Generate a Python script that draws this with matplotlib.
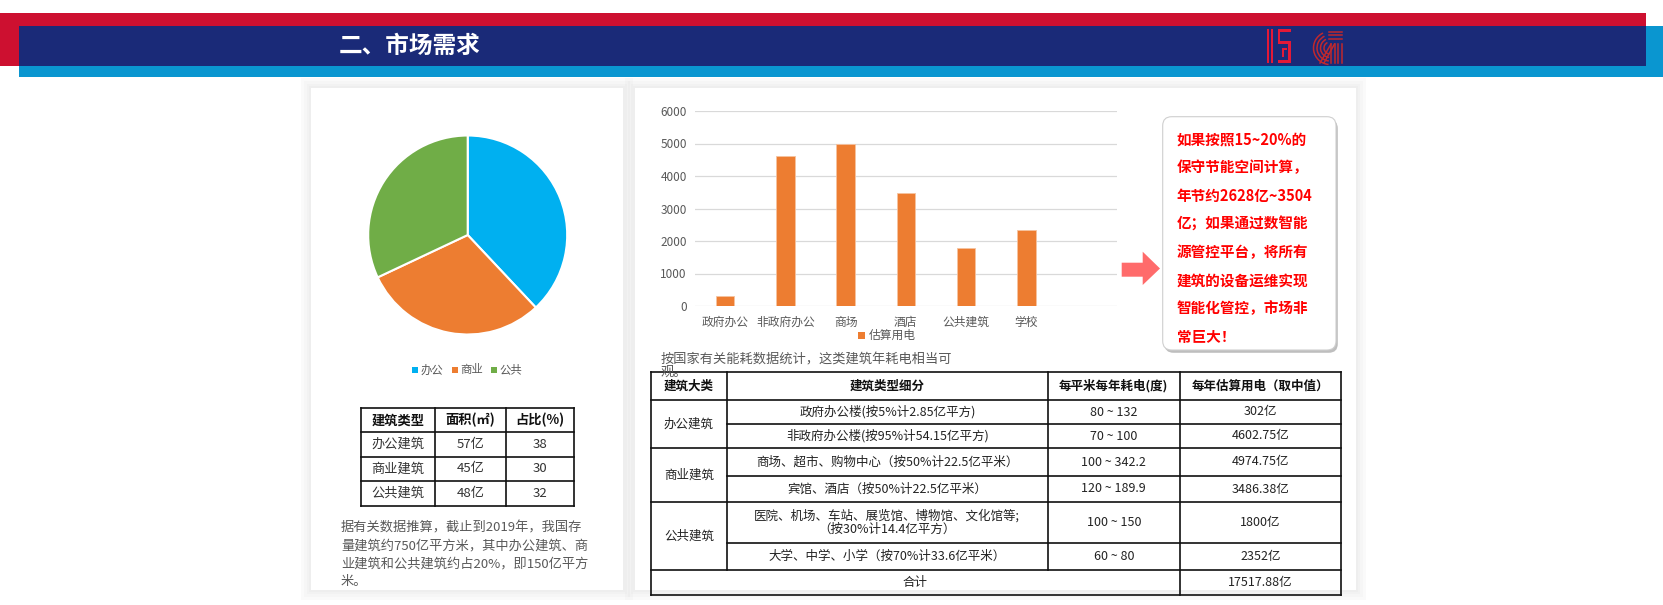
import numpy as np
import matplotlib.pyplot as plt
from matplotlib.patches import Rectangle, FancyBboxPatch, Polygon, Arc

plt.rcParams['font.family'] = ['Noto Sans CJK SC', 'DejaVu Sans']

W, H = 1663, 605

# 饼图数据
pie_labels = ['办公', '商业', '公共']
pie_values = [38, 30, 32]
pie_colors = ['#00B0F0', '#ED7D31', '#70AD47']

# 面积表
area_header = ['建筑类型', '面积(㎡)', '占比(%)']
area_types = ['办公建筑', '商业建筑', '公共建筑']
area_values = ['57亿', '45亿', '48亿']
area_share = ['38', '30', '32']

area_note = ['据有关数据推算，截止到2019年，我国存',
             '量建筑约750亿平方米，其中办公建筑、商',
             '业建筑和公共建筑约占20%，即150亿平方',
             '米。']

# 柱状图数据
bar_cats = ['政府办公', '非政府办公', '商场', '酒店', '公共建筑', '学校']
bar_values = [302, 4602.75, 4974.75, 3486.38, 1800, 2352]
bar_legend = '估算用电'

# 大表
big_header = ['建筑大类', '建筑类型细分', '每平米每年耗电(度)', '每年估算用电（取中值）']
big_groups = ['办公建筑', '商业建筑', '公共建筑']
big_sub = ['政府办公楼(按5%计2.85亿平方)',
           '非政府办公楼(按95%计54.15亿平方)',
           '商场、超市、购物中心（按50%计22.5亿平米）',
           '宾馆、酒店（按50%计22.5亿平米）',
           '医院、机场、车站、展览馆、博物馆、文化馆等;\n（按30%计14.4亿平方）',
           '大学、中学、小学（按70%计33.6亿平米）']
big_range = ['80 ~ 132', '70 ~ 100', '100 ~ 342.2', '120 ~ 189.9', '100 ~ 150', '60 ~ 80']
big_total = ['302亿', '4602.75亿', '4974.75亿', '3486.38亿', '1800亿', '2352亿']
total_label = '合计'
total_value = '17517.88亿'

callout_lines = ['如果按照15~20%的', '保守节能空间计算，', '年节约2628亿~3504',
                 '亿；如果通过数智能', '源管控平台，将所有', '建筑的设备运维实现',
                 '智能化管控，市场非', '常巨大！']

title = '二、市场需求'
table_intro = '按国家有关能耗数据统计，这类建筑年耗电相当可'

GRAY = '#595959'

fig = plt.figure(figsize=(W / 100, H / 100), dpi=100)
fig.patch.set_facecolor('white')

def px_axes(x0, y0, x1, y1, z):
    # 像素坐标 -> figure 坐标
    return fig.add_axes([x0 / W, (H - y1) / H, (x1 - x0) / W, (y1 - y0) / H], zorder=z)

# 背景层
bg = fig.add_axes([0, 0, 1, 1], zorder=0)
bg.set_xlim(0, W)
bg.set_ylim(H, 0)
bg.axis('off')

# 页眉
bg.add_patch(Rectangle((0, 13), 1646, 53, color='#CD1030', lw=0))
bg.add_patch(Rectangle((19, 26), W - 19, 50.5, color='#0A96D0', lw=0))
bg.add_patch(Rectangle((19, 26), 1646 - 19, 40, color='#1A2A78', lw=0))
bg.text(339, 46, title, color='white', fontsize=17, fontweight='bold', ha='left', va='center')

# 标志
logo_red = '#E31937'
logo_dark = '#C0282D'
for (x, y, w, h) in [(1266.5, 29.3, 2.3, 33.7), (1271, 29.3, 2.3, 33.7),
                     (1277.7, 29.3, 13, 2.7), (1277.7, 29.3, 2.5, 14),
                     (1277.7, 41, 13, 2.5), (1288.2, 41, 2.5, 19),
                     (1281.5, 48, 5, 2.3), (1281.5, 48, 2.3, 9),
                     (1277.7, 60.3, 13, 2.7)]:
    bg.add_patch(Rectangle((x, y), w, h, color=logo_red, lw=0))
for r in [6, 9.5, 13, 16.5]:
    bg.add_patch(Arc((1330, 48), 2 * r, 2 * r, theta1=95, theta2=245, color=logo_dark, lw=1.1))
for x in [1331, 1334.5, 1338, 1341.5]:
    bg.plot([x, x], [44, 63], color=logo_dark, lw=1.1)
for y in [31.5, 35, 38.5]:
    bg.plot([1329, 1342], [y, y], color=logo_dark, lw=1.1)
bg.plot([1320, 1331], [63, 44], color=logo_dark, lw=1.1)
bg.plot([1324, 1334.5], [63, 44], color=logo_dark, lw=1.1)

# 卡片与阴影
for (x0, y0, x1, y1) in [(311, 88, 623, 590), (635, 88, 1356, 590)]:
    for k in [10, 7, 4, 2]:
        bg.add_patch(Rectangle((x0 - k, y0 - k), x1 - x0 + 2 * k, y1 - y0 + 2 * k,
                               color='#A0A0A0', alpha=0.045, lw=0))
    bg.add_patch(Rectangle((x0, y0), x1 - x0, y1 - y0, color='white', lw=0))

# 饼图
r = 99.5
cx, cy = 467.7, 235
ax_pie = px_axes(cx - r, cy - r, cx + r, cy + r, 1)
ax_pie.pie(pie_values, colors=pie_colors, startangle=90, counterclock=False,
           wedgeprops=dict(edgecolor='white', linewidth=1.5))
ax_pie.set_xlim(-1, 1)
ax_pie.set_ylim(-1, 1)
ax_pie.set_aspect('equal')
ax_pie.axis('off')

# 柱状图
ax_bar = px_axes(695, 111, 1116.7, 306, 1)
ax_bar.set_facecolor('none')
ax_bar.bar(range(len(bar_values)), bar_values, width=0.31, color='#ED7D31',
           edgecolor='#F6C3A0', linewidth=0.6, zorder=3)
ax_bar.set_xlim(-0.5, 6.5)
ax_bar.set_ylim(0, 6000)
ax_bar.set_yticks(range(0, 7000, 1000))
ax_bar.set_xticks(range(len(bar_cats)))
ax_bar.set_xticklabels(bar_cats)
ax_bar.grid(axis='y', color='#D9D9D9', lw=0.9, zorder=0)
ax_bar.tick_params(length=0, labelsize=8.5, colors=GRAY)
ax_bar.tick_params(axis='y', pad=6)
ax_bar.tick_params(axis='x', pad=7)
for s in ax_bar.spines.values():
    s.set_visible(False)

# 前景层
fg = fig.add_axes([0, 0, 1, 1], zorder=2)
fg.set_facecolor('none')
fg.set_xlim(0, W)
fg.set_ylim(H, 0)
fg.axis('off')

# 饼图图例
for x, lab, c in zip([412, 451.5, 490.5], pie_labels, pie_colors):
    fg.add_patch(Rectangle((x, 367), 6, 6, color=c, lw=0))
    fg.text(x + 9, 370, lab, fontsize=8.2, color=GRAY, ha='left', va='center')

# 柱状图图例
fg.add_patch(Rectangle((858, 331.5), 7, 7, color='#ED7D31', lw=0))
fg.text(869, 335, bar_legend, fontsize=8.5, color=GRAY, ha='left', va='center')

# 面积表
cols = [360.7, 435, 505.7, 574]
rows = [408.3, 432.3, 456.7, 480.7, 505.7]
for y in rows:
    fg.plot([cols[0], cols[-1]], [y, y], color='#111111', lw=1.2)
for x in cols:
    fg.plot([x, x], [rows[0], rows[-1]], color='#111111', lw=1.2)
for j, t in enumerate(area_header):
    fg.text((cols[j] + cols[j + 1]) / 2, (rows[0] + rows[1]) / 2, t, fontsize=9.5,
            fontweight='bold', ha='center', va='center', color='#111111')
for i in range(3):
    yc = (rows[i + 1] + rows[i + 2]) / 2
    for j, t in enumerate([area_types[i], area_values[i], area_share[i]]):
        fg.text((cols[j] + cols[j + 1]) / 2, yc, t, fontsize=9.5,
                ha='center', va='center', color='#333333')

for i, line in enumerate(area_note):
    fg.text(341, 528 + 18 * i, line, fontsize=9.5, color=GRAY, ha='left', va='center')

# 箭头
fg.add_patch(Polygon([(1121.7, 262.7), (1142.7, 262.7), (1142.7, 251.7), (1160, 268.5),
                      (1142.7, 285), (1142.7, 276.7), (1121.7, 276.7)],
                     closed=True, color='#FF6B6B', lw=0))

# 说明框
fg.add_patch(FancyBboxPatch((1164.5, 119.5), 173.3, 233.3,
                            boxstyle='round,pad=0,rounding_size=9',
                            facecolor='#8A8A8A', edgecolor='none', alpha=0.55))
fg.add_patch(FancyBboxPatch((1162.7, 116.7), 173.3, 233.3,
                            boxstyle='round,pad=0,rounding_size=9',
                            facecolor='white', edgecolor='#CFCFCF', lw=0.8))
for i, line in enumerate(callout_lines):
    fg.text(1176.7, 139.3 + 28.2 * i, line, fontsize=10.5, fontweight='bold',
            color='#FF0000', ha='left', va='center')

# 表格上方说明
fg.text(661, 359.5, table_intro, fontsize=9.5, color=GRAY, ha='left', va='center')
fg.text(661, 372, '观。', fontsize=9.5, color=GRAY, ha='left', va='center')

# 大表
bc = [651, 727, 1047.6, 1180, 1340.6]
br = [372, 400, 424, 448, 476, 502, 543, 570, 595]
lw = 1.2
lc = '#111111'
for y in [br[0], br[1], br[3], br[5], br[7], br[8]]:
    fg.plot([bc[0], bc[-1]], [y, y], color=lc, lw=lw)
for y in [br[2], br[4], br[6]]:
    fg.plot([bc[1], bc[-1]], [y, y], color=lc, lw=lw)
for x in [bc[0], bc[3], bc[4]]:
    fg.plot([x, x], [br[0], br[-1]], color=lc, lw=lw)
for x in [bc[1], bc[2]]:
    fg.plot([x, x], [br[0], br[7]], color=lc, lw=lw)

for j, t in enumerate(big_header):
    fg.text((bc[j] + bc[j + 1]) / 2, (br[0] + br[1]) / 2, t, fontsize=9,
            fontweight='bold', ha='center', va='center', color='#111111')
for g, t in enumerate(big_groups):
    fg.text((bc[0] + bc[1]) / 2, (br[1 + 2 * g] + br[3 + 2 * g]) / 2, t, fontsize=9,
            ha='center', va='center', color='#222222')
for i in range(6):
    yc = (br[1 + i] + br[2 + i]) / 2
    fg.text((bc[1] + bc[2]) / 2, yc, big_sub[i], fontsize=9, ha='center', va='center',
            color='#222222', linespacing=1.1)
    fg.text((bc[2] + bc[3]) / 2, yc, big_range[i], fontsize=9, ha='center', va='center',
            color='#222222')
    fg.text((bc[3] + bc[4]) / 2, yc, big_total[i], fontsize=9, ha='center', va='center',
            color='#222222')
fg.text((bc[0] + bc[3]) / 2, (br[7] + br[8]) / 2, total_label, fontsize=9,
        ha='center', va='center', color='#222222')
fg.text((bc[3] + bc[4]) / 2, (br[7] + br[8]) / 2, total_value, fontsize=9,
        ha='center', va='center', color='#222222')

fig.savefig('out.png', dpi=100)
